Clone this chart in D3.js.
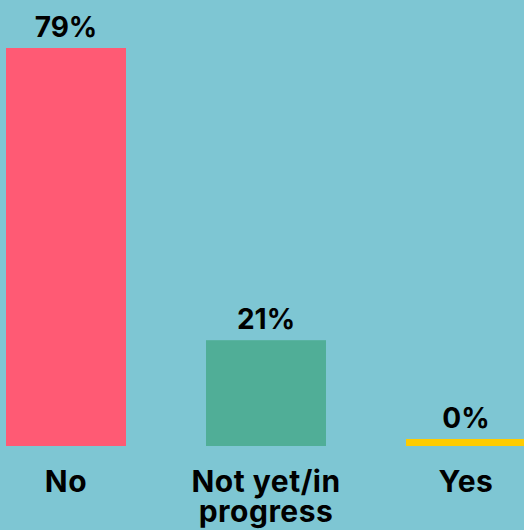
<!DOCTYPE html>
<html>
<head>
<meta charset="utf-8">
<script src="https://cdn.jsdelivr.net/npm/d3@7"></script>
<style>
  html, body { margin: 0; padding: 0; background: #7ec6d3; }
  svg { display: block; }
  text { font-family: Inter, "Open Sans", sans-serif; font-weight: 700; fill: #000; }
</style>
</head>
<body>
<svg id="chart" width="524" height="530"></svg>
<script>
// Survey answers and their shares (percent)
const categories = ["No", "Not yet/in progress", "Yes"];
const categoryLines = [["No"], ["Not yet/in", "progress"], ["Yes"]];
const values = [79, 21, 0];
const valueLabels = ["79%", "21%", "0%"];
const colors = ["#ff5a74", "#50ae97", "#ffcc00"];

const width = 524, height = 530;
const baseline = 446;
const minBar = 7; // zero values still get a visible strip

const svg = d3.select("#chart");

const x = d3.scaleBand()
  .domain(categories)
  .range([6, 526])
  .paddingInner(0.4)
  .paddingOuter(0);

const y = d3.scaleLinear()
  .domain([0, 79])
  .range([baseline, 48]);

const data = categories.map((c, i) => ({
  cat: c, value: values[i], label: valueLabels[i], color: colors[i], lines: categoryLines[i]
}));

const barTop = d => Math.min(y(d.value), baseline - minBar);

svg.selectAll("rect.bar")
  .data(data)
  .join("rect")
  .attr("class", "bar")
  .attr("x", d => x(d.cat))
  .attr("width", x.bandwidth())
  .attr("y", barTop)
  .attr("height", d => baseline - barTop(d))
  .attr("fill", d => d.color);

svg.selectAll("text.value")
  .data(data)
  .join("text")
  .attr("class", "value")
  .attr("x", d => x(d.cat) + x.bandwidth() / 2)
  .attr("y", d => barTop(d) - 11)
  .attr("text-anchor", "middle")
  .style("font-size", "28px")
  .text(d => d.label);

const cats = svg.selectAll("text.cat")
  .data(data)
  .join("text")
  .attr("class", "cat")
  .attr("x", d => x(d.cat) + x.bandwidth() / 2)
  .attr("y", 492)
  .attr("text-anchor", "middle")
  .style("font-size", "30px")
  .style("letter-spacing", "0.5px");

cats.selectAll("tspan")
  .data(d => d.lines.map(l => ({ l, cx: x(d.cat) + x.bandwidth() / 2 })))
  .join("tspan")
  .attr("x", t => t.cx)
  .attr("dy", (t, i) => i === 0 ? 0 : 30)
  .text(t => t.l);
</script>
</body>
</html>
